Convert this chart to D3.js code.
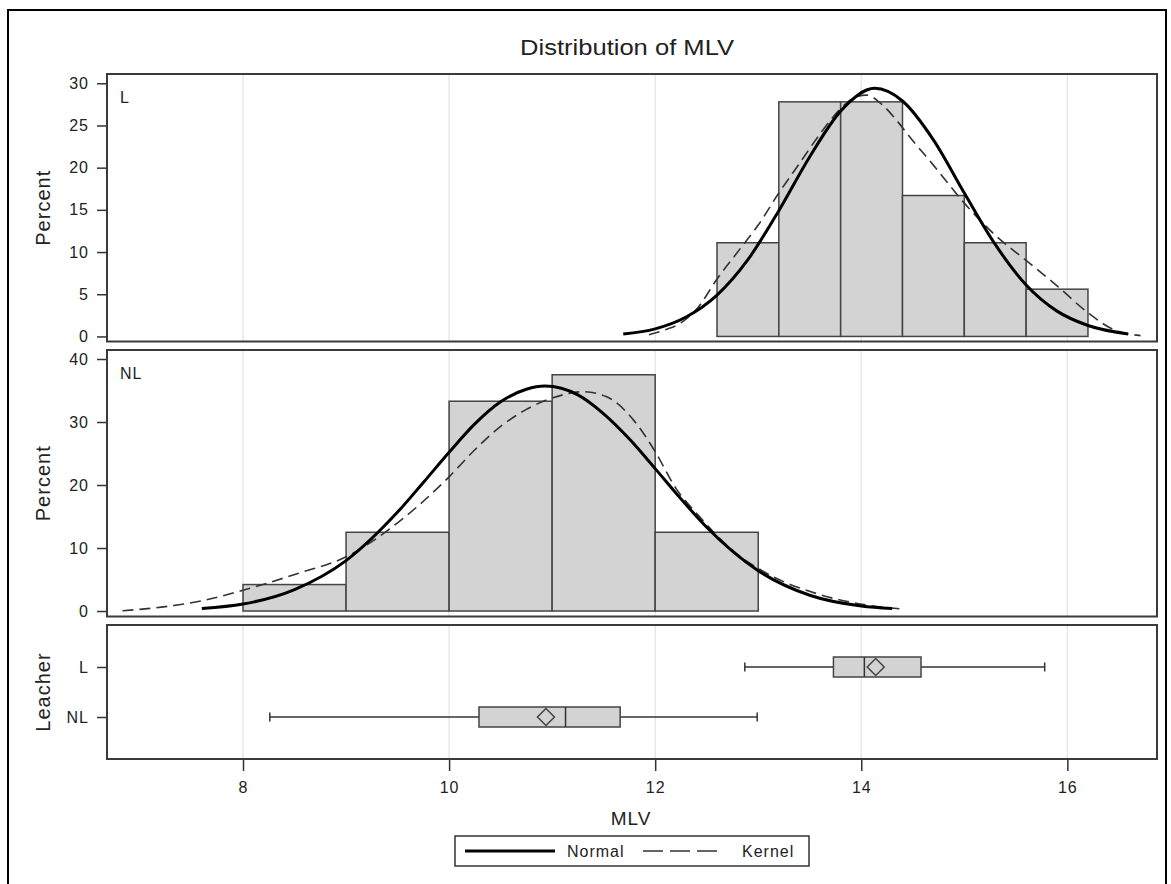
<!DOCTYPE html>
<html>
<head>
<meta charset="utf-8">
<script src="https://cdn.jsdelivr.net/npm/d3@7"></script>
<style>
  body { margin: 0; background: #fff; }
  text { font-family: Arial, "Liberation Sans", sans-serif; fill: #222; }
</style>
</head>
<body>
<svg id="chart"></svg>
<script>
// histogram bins (edges) and percents per group
const leacherEdges = [12.6, 13.2, 13.8, 14.4, 15.0, 15.6, 16.2];
const leacherPct = [11.1, 27.8, 27.8, 16.7, 11.1, 5.6];
const nonEdges = [8, 9, 10, 11, 12, 13];
const nonPct = [4.2, 12.5, 33.3, 37.5, 12.5];

// fitted curves: [MLV, percent]
const leacherNormal = [[11.69, 0.3], [12.0, 0.9], [12.3, 2.3], [12.6, 4.9], [12.9, 9.1], [13.2, 14.9],
  [13.5, 21.3], [13.8, 26.7], [14.13, 29.4], [14.4, 27.9], [14.7, 23.3], [15.0, 17.0], [15.3, 10.9],
  [15.6, 6.1], [15.9, 3.0], [16.2, 1.3], [16.59, 0.3]];
const leacherKernel = [[11.94, 0.2], [12.1, 0.8], [12.25, 1.6], [12.42, 3.5], [12.6, 6.8], [12.8, 10.0],
  [13.0, 13.2], [13.2, 17.0], [13.4, 20.5], [13.6, 24.0], [13.8, 27.0], [13.95, 28.4], [14.05, 28.6],
  [14.2, 27.5], [14.35, 25.5], [14.5, 23.2], [14.7, 20.3], [15.0, 15.8], [15.3, 12.0], [15.6, 9.0],
  [15.9, 6.0], [16.2, 2.8], [16.45, 0.8], [16.71, 0.1]];
const nonNormal = [[7.6, 0.4], [8.0, 1.1], [8.5, 3.4], [9.0, 8.0], [9.5, 15.7], [9.75, 20.4], [10.0, 25.2],
  [10.25, 29.7], [10.5, 33.2], [10.75, 35.2], [10.93, 35.7], [11.25, 34.3], [11.5, 31.3], [11.75, 27.3],
  [12.0, 22.6], [12.25, 17.8], [12.5, 13.3], [13.0, 6.4], [13.5, 2.5], [14.0, 0.8], [14.3, 0.4]];
const nonKernel = [[6.83, 0.05], [7.25, 0.7], [7.64, 1.75], [8.0, 3.3], [8.54, 6.0], [9.0, 8.6], [9.5, 14.0],
  [10.0, 21.3], [10.25, 25.6], [10.5, 29.3], [10.75, 32.0], [11.0, 33.8], [11.3, 34.8], [11.53, 34.0],
  [11.79, 30.3], [12.0, 25.3], [12.2, 19.5], [12.43, 15.0], [12.76, 9.5], [13.08, 6.0], [13.56, 2.8],
  [14.05, 0.95], [14.42, 0.3]];

// box plot stats
const boxGroups = ["L", "NL"];
const boxMin = [12.87, 8.26];
const boxQ1 = [13.73, 10.29];
const boxMedian = [14.03, 11.13];
const boxMean = [14.14, 10.94];
const boxQ3 = [14.58, 11.66];
const boxMax = [15.78, 12.99];

const xTicks = [8, 10, 12, 14, 16];
const leacherTicks = [0, 5, 10, 15, 20, 25, 30];
const nonTicks = [0, 10, 20, 30, 40];

const W = 1171, H = 884;
const plotLeft = 107, plotRight = 1157;

const svg = d3.select("#chart").attr("width", W).attr("height", H);

const x = d3.scaleLinear().domain([6.68, 16.87]).range([plotLeft, plotRight]);

function draw_frame() {
    svg.append("rect")
        .attr("x", 8).attr("y", 10)
        .attr("width", 1158).attr("height", 900)
        .attr("fill", "none").attr("stroke", "#000").attr("stroke-width", 2);

    svg.append("text")
        .attr("x", 627).attr("y", 55)
        .attr("text-anchor", "middle")
        .attr("font-size", 22)
        .attr("textLength", 214).attr("lengthAdjust", "spacingAndGlyphs")
        .text("Distribution of MLV");
}

function draw_grid(top, bottom) {
    svg.append("g")
        .selectAll("line")
        .data(xTicks)
        .enter().append("line")
        .attr("x1", d => x(d)).attr("x2", d => x(d))
        .attr("y1", top).attr("y2", bottom)
        .attr("stroke", "#e8e8e8").attr("stroke-width", 1.5);
}

function style_axis(g) {
    g.select(".domain").remove();
    g.selectAll(".tick line").attr("stroke", "#333").attr("stroke-width", 1.5);
    g.selectAll(".tick text")
        .attr("font-size", 16)
        .attr("letter-spacing", 1)
        .attr("fill", "#222")
        .attr("font-family", "Arial, 'Liberation Sans', sans-serif");
}

function draw_border(top, bottom) {
    svg.append("rect")
        .attr("x", plotLeft).attr("y", top)
        .attr("width", plotRight - plotLeft).attr("height", bottom - top)
        .attr("fill", "none").attr("stroke", "#3a3a3a").attr("stroke-width", 2);
}

function y_label(text, cy) {
    svg.append("text")
        .attr("transform", `translate(50,${cy}) rotate(-90)`)
        .attr("text-anchor", "middle")
        .attr("font-size", 20)
        .attr("letter-spacing", 1)
        .text(text);
}

function draw_hist_panel(top, bottom, yDomain, ticks, edges, pct, normal, kernel, label) {
    const y = d3.scaleLinear().domain(yDomain).range([bottom, top]);

    draw_grid(top, bottom);

    const bins = pct.map((p, i) => ({x0: edges[i], x1: edges[i + 1], p: p}));
    svg.append("g")
        .selectAll("rect")
        .data(bins)
        .enter().append("rect")
        .attr("x", d => x(d.x0))
        .attr("width", d => x(d.x1) - x(d.x0))
        .attr("y", d => y(d.p))
        .attr("height", d => y(0) - y(d.p))
        .attr("fill", "#d3d3d3")
        .attr("stroke", "#444")
        .attr("stroke-width", 1.5);

    const line = d3.line()
        .x(d => x(d[0]))
        .y(d => y(d[1]))
        .curve(d3.curveMonotoneX);

    svg.append("path")
        .attr("d", line(kernel))
        .attr("fill", "none")
        .attr("stroke", "#333")
        .attr("stroke-width", 1.6)
        .attr("stroke-dasharray", "11,6");

    svg.append("path")
        .attr("d", line(normal))
        .attr("fill", "none")
        .attr("stroke", "#000")
        .attr("stroke-width", 3);

    svg.append("g")
        .attr("transform", `translate(${plotLeft},0)`)
        .call(d3.axisLeft(y).tickValues(ticks).tickSize(10).tickPadding(8).tickSizeOuter(0))
        .call(style_axis);

    draw_border(top, bottom);

    svg.append("text")
        .attr("x", 120).attr("y", top + 29)
        .attr("font-size", 16)
        .attr("letter-spacing", 1)
        .text(label);

    y_label("Percent", (top + bottom) / 2);
}

function draw_box_panel(top, bottom) {
    const y = d3.scalePoint().domain(boxGroups).range([top, bottom]).padding(0.84);
    const half = 10;

    draw_grid(top, bottom);

    const stats = boxGroups.map((g, i) => ({
        g: g, min: boxMin[i], q1: boxQ1[i], med: boxMedian[i],
        mean: boxMean[i], q3: boxQ3[i], max: boxMax[i]
    }));

    const box = svg.append("g")
        .selectAll("g")
        .data(stats)
        .enter().append("g");

    box.append("line")
        .attr("x1", d => x(d.min)).attr("x2", d => x(d.max))
        .attr("y1", d => y(d.g)).attr("y2", d => y(d.g))
        .attr("stroke", "#333").attr("stroke-width", 1.5);

    box.selectAll(".cap")
        .data(d => [d.min, d.max].map(v => ({v: v, g: d.g})))
        .enter().append("line")
        .attr("class", "cap")
        .attr("x1", d => x(d.v)).attr("x2", d => x(d.v))
        .attr("y1", d => y(d.g) - 4.5).attr("y2", d => y(d.g) + 4.5)
        .attr("stroke", "#333").attr("stroke-width", 1.5);

    box.append("rect")
        .attr("x", d => x(d.q1))
        .attr("width", d => x(d.q3) - x(d.q1))
        .attr("y", d => y(d.g) - half)
        .attr("height", half * 2)
        .attr("fill", "#d3d3d3")
        .attr("stroke", "#444").attr("stroke-width", 1.5);

    box.append("line")
        .attr("x1", d => x(d.med)).attr("x2", d => x(d.med))
        .attr("y1", d => y(d.g) - half).attr("y2", d => y(d.g) + half)
        .attr("stroke", "#333").attr("stroke-width", 1.5);

    box.append("path")
        .attr("d", d => {
            const cx = x(d.mean), cy = y(d.g), r = 8.5;
            return `M${cx},${cy - r}L${cx + r},${cy}L${cx},${cy + r}L${cx - r},${cy}Z`;
        })
        .attr("fill", "none")
        .attr("stroke", "#444").attr("stroke-width", 1.5);

    svg.append("g")
        .attr("transform", `translate(${plotLeft},0)`)
        .call(d3.axisLeft(y).tickSize(10).tickPadding(8).tickSizeOuter(0))
        .call(style_axis);

    svg.append("g")
        .attr("transform", `translate(0,${bottom})`)
        .call(d3.axisBottom(x).tickValues(xTicks).tickSize(12).tickPadding(11).tickSizeOuter(0))
        .call(style_axis);

    draw_border(top, bottom);

    y_label("Leacher", (top + bottom) / 2);

    svg.append("text")
        .attr("x", 631).attr("y", 825)
        .attr("text-anchor", "middle")
        .attr("font-size", 19)
        .attr("letter-spacing", 1)
        .text("MLV");
}

function draw_legend() {
    const g = svg.append("g");
    g.append("rect")
        .attr("x", 455).attr("y", 836)
        .attr("width", 354).attr("height", 30)
        .attr("fill", "#fff").attr("stroke", "#333").attr("stroke-width", 1.5);

    g.append("line")
        .attr("x1", 465).attr("x2", 555).attr("y1", 851).attr("y2", 851)
        .attr("stroke", "#000").attr("stroke-width", 3);
    g.append("text")
        .attr("x", 567).attr("y", 857)
        .attr("font-size", 16).attr("letter-spacing", 1)
        .text("Normal");

    g.append("line")
        .attr("x1", 643).attr("x2", 723).attr("y1", 851).attr("y2", 851)
        .attr("stroke", "#333").attr("stroke-width", 1.6)
        .attr("stroke-dasharray", "20,7");
    g.append("text")
        .attr("x", 742).attr("y", 857)
        .attr("font-size", 16).attr("letter-spacing", 1)
        .text("Kernel");
}

draw_frame();
draw_hist_panel(74, 341.5, [-0.6, 31.1], leacherTicks, leacherEdges, leacherPct, leacherNormal, leacherKernel, "L");
draw_hist_panel(350, 616.5, [-0.87, 41.43], nonTicks, nonEdges, nonPct, nonNormal, nonKernel, "NL");
draw_box_panel(625, 759);
draw_legend();
</script>
</body>
</html>
